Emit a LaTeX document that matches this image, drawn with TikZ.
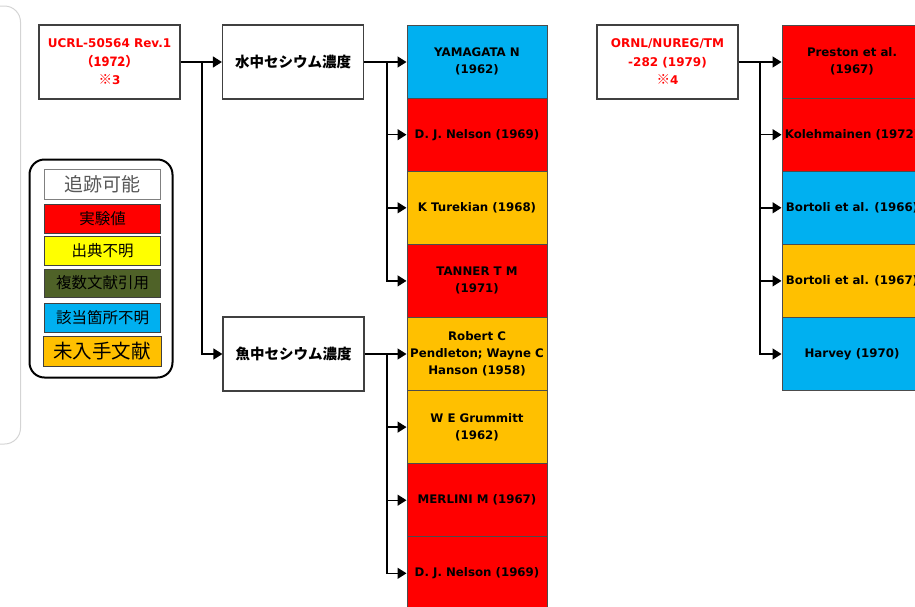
\documentclass[tikz,border=0pt]{standalone}
\usepackage{fontspec}
\setmainfont{DejaVu Sans}
\newfontfamily\jp{Noto Sans CJK JP}
\usetikzlibrary{arrows.meta}
\definecolor{cred}{HTML}{FF0000}
\definecolor{corange}{HTML}{FFC000}
\definecolor{cblue}{HTML}{00B0F0}
\definecolor{cyellow}{HTML}{FFFF00}
\definecolor{colive}{HTML}{4F6228}
\definecolor{cframe}{HTML}{D4D4D4}
\tikzset{
  srcbox/.style={draw=black!75, line width=1.2pt, fill=white, minimum width=141pt, minimum height=74pt, inner sep=1pt, align=center, font=\bfseries\fontsize{12}{18.5}\selectfont},
  cell/.style={draw=black!70, line width=1pt, minimum width=140pt, minimum height=73.1pt, inner sep=1pt, align=center, font=\bfseries\fontsize{11.8}{17}\selectfont},
  arr/.style={line width=1.4pt, -{Triangle[length=9pt,width=11pt]}},
  legitem/.style={draw=black!75, line width=1pt, minimum width=116pt, inner sep=0pt, font=\jp\fontsize{15.5}{16}\selectfont},
}
\begin{document}
\begin{tikzpicture}[x=1pt,y=-1pt]
\useasboundingbox (0,0) rectangle (915,606);
\clip (0,0) rectangle (915,606);
% faint frame edge
\draw[cframe, line width=1pt, rounded corners=16pt] (-20,6) -- (20.5,6) -- (20.5,444) -- (-20,444);
% source boxes
\node[srcbox, text=cred] (ucrl) at (109.5,62) {UCRL-50564 Rev.1\\{\jp\bfseries\fontsize{13}{18.5}\selectfont （1972）}\\{\jp\bfseries\fontsize{13.5}{18.5}\selectfont ※}3};
\node[srcbox, font=\jp\bfseries\fontsize{14.5}{16}\selectfont] (wat) at (293,62) {水中セシウム濃度};
\node[srcbox, font=\jp\bfseries\fontsize{14.5}{16}\selectfont] (fish) at (293.5,354) {魚中セシウム濃度};
\node[srcbox, text=cred] (ornl) at (667.5,62) {ORNL/NUREG/TM\\-282 (1979)\\{\jp\bfseries\fontsize{13.5}{18.5}\selectfont ※}4};
% middle column
\node[cell, fill=cblue] (c1) at (477,61.6) {YAMAGATA N\\(1962)};
\node[cell, fill=cred] (c2) at (477,134.7) {D. J. Nelson (1969)};
\node[cell, fill=corange] (c3) at (477,207.8) {K Turekian (1968)};
\node[cell, fill=cred] (c4) at (477,280.9) {TANNER T M\\(1971)};
\node[cell, fill=corange] (c5) at (477,354.0) {Robert C\\Pendleton; Wayne C\\Hanson (1958)};
\node[cell, fill=corange] (c6) at (477,427.1) {W E Grummitt\\(1962)};
\node[cell, fill=cred] (c7) at (477,500.2) {MERLINI M (1967)};
\node[cell, fill=cred] (c8) at (477,573.3) {D. J. Nelson (1969)};
% right column
\node[cell, fill=cred] (r1) at (852,61.6) {Preston et al.\\(1967)};
\node[cell, fill=cred] (r2) at (852,134.7) {Kolehmainen (1972)};
\node[cell, fill=cblue] (r3) at (852,207.8) {Bortoli et al. (1966)};
\node[cell, fill=corange] (r4) at (852,280.9) {Bortoli et al. (1967)};
\node[cell, fill=cblue] (r5) at (852,354.0) {Harvey (1970)};
% connectors
\coordinate (b1) at (202,62);
\coordinate (b2) at (387,62);
\coordinate (b3) at (387,354);
\coordinate (b4) at (760,62);
\draw[arr] (ucrl.east) -- (wat.west);
\draw[arr] (b1) |- (fish.west);
\draw[arr] (wat.east) -- (wat.east -| c1.west);
\foreach \n in {c2,c3,c4} \draw[arr] (b2) |- (\n.west);
\draw[arr] (fish.east) -- (fish.east -| c5.west);
\foreach \n in {c6,c7,c8} \draw[arr] (b3) |- (\n.west);
\draw[arr] (ornl.east) -- (ornl.east -| r1.west);
\foreach \n in {r2,r3,r4,r5} \draw[arr] (b4) |- (\n.west);
% legend
\node[draw=black, line width=2pt, rounded corners=15pt, minimum width=143pt, minimum height=218pt, inner sep=0pt] (leg) at (101,268.5) {};
\node[legitem, draw=black!50, fill=white, minimum height=30pt, text=black!65, font=\jp\fontsize{19}{20}\selectfont] (l1) at (102,184) {追跡可能};
\node[legitem, fill=cred, minimum height=29pt] (l2) at (102.5,218.5) {実験値};
\node[legitem, fill=cyellow, minimum height=29pt] (l3) at (102.5,250.5) {出典不明};
\node[legitem, fill=colive, minimum height=28pt] (l4) at (102.5,283) {複数文献引用};
\node[legitem, fill=cblue, minimum height=29pt] (l5) at (102.5,317.5) {該当箇所不明};
\node[legitem, fill=corange, minimum height=30pt, minimum width=118pt, font=\jp\fontsize{19.5}{20}\selectfont] (l6) at (102,351) {未入手文献};
\end{tikzpicture}
\end{document}
